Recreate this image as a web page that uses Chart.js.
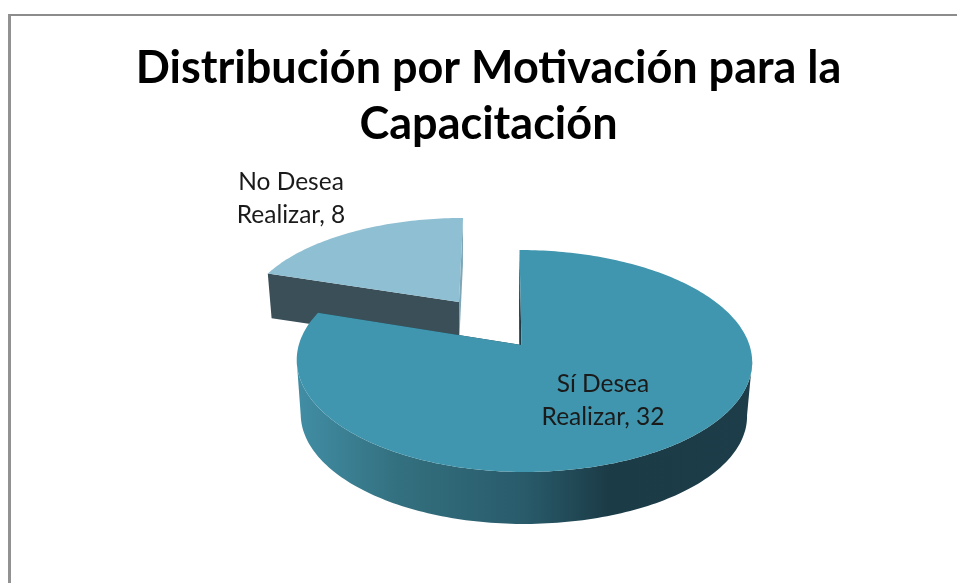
<!DOCTYPE html>
<html lang="es">
<head>
<meta charset="utf-8">
<title>Distribución por Motivación para la Capacitación</title>
<script src="https://cdn.jsdelivr.net/npm/chart.js@4/dist/chart.umd.min.js"></script>
<style>
	html, body { margin: 0; padding: 0; background: #fff; overflow: hidden; }
	#wrap { position: relative; width: 957px; height: 583px; overflow: hidden; }
	#frame { position: absolute; left: 8px; top: 14px; width: 1200px; height: 900px; border-left: 3px solid #929292; border-top: 2px solid #8c8c8c; }
	#chartpie { position: absolute; left: 0; top: 0; }
</style>
</head>
<body>
<div id="wrap">
	<div id="frame"></div>
	<canvas id="chartpie" width="957" height="583"></canvas>
</div>
<script>
var titleLines = ["Distribución por Motivación para la", "Capacitación"];
var categories = ["Sí Desea Realizar", "No Desea Realizar"];
var values = [32, 8];
var topColors = ["#4096ae", "#8fbfd2"];
var wallColors = ["#1c3c47", "#3a4f58"];
var endCutColors = ["#1c3c47", "#7ea6b6"];

// how each slice is laid over the flat Chart.js arc: exploded offset, squash, tilt
var PERSPECTIVE = 0.144;
var sliceViews = [
	{ dx: 33, dy: 0, rxLeft: 0.99, rxRight: 1.013, ry: 0.483, shear: 0.021, depth: 54.5, floor: 0.98, floorDx: -0.5, cutDx: -2 },
	{ dx: -29.5, dy: -43, rxLeft: 0.94, rxRight: 0.94, ry: 0.4275, shear: -0.048, depth: 44, floor: 0.98, floorDx: 0, cutDx: 0 }
];
var labelViews = [
	{ x: 603, y: 384, lines: function (v) { return ["Sí Desea", "Realizar, " + v]; } },
	{ x: 291, y: 182, lines: function (v) { return ["No Desea", "Realizar, " + v]; } }
];

function project(arc, view, angle, onFloor) {
	var u = Math.cos(angle), v = Math.sin(angle);
	var w = 1 - PERSPECTIVE * v;
	var scale = onFloor ? view.floor : 1;
	var rx = u > 0 ? view.rxRight : view.rxLeft;
	var dy = scale * view.ry * arc.outerRadius * v / w;
	return {
		x: arc.x + view.dx + (onFloor ? view.floorDx : 0) + scale * rx * arc.outerRadius * u / w + view.shear * dy,
		y: arc.y + view.dy + (onFloor ? view.depth : 0) + dy
	};
}

function apex(arc, view, onFloor) {
	return {
		x: arc.x + view.dx + (onFloor ? view.cutDx : 0),
		y: arc.y + view.dy + (onFloor ? view.depth : 0)
	};
}

function tracePoly(ctx, pts) {
	ctx.beginPath();
	for (var i = 0; i < pts.length; i++) {
		if (i === 0) ctx.moveTo(pts[i].x, pts[i].y);
		else ctx.lineTo(pts[i].x, pts[i].y);
	}
	ctx.closePath();
}

function rimPoints(arc, view, from, to, onFloor) {
	var pts = [];
	var steps = Math.max(4, Math.ceil((to - from) / 0.02));
	for (var i = 0; i <= steps; i++) {
		pts.push(project(arc, view, from + (to - from) * i / steps, onFloor));
	}
	return pts;
}

function paintSlice(ctx, arc, i) {
	var view = sliceViews[i];
	var s = arc.startAngle, e = arc.endAngle;
	var top = rimPoints(arc, view, s, e, false);
	var floor = rimPoints(arc, view, s, e, true);

	// outer wall, between the two points where the rim turns away from the viewer
	var turn = Math.asin(PERSPECTIVE);
	var from = Math.max(s, turn), to = Math.min(e, Math.PI - turn);
	if (to > from) {
		var left = arc.x + view.dx - arc.outerRadius * view.rxLeft;
		var right = arc.x + view.dx + arc.outerRadius * view.rxRight;
		var g = ctx.createLinearGradient(left, 0, right, 0);
		g.addColorStop(0, "#418da4");
		g.addColorStop(0.22, "#33707f");
		g.addColorStop(0.5, "#295b6b");
		g.addColorStop(0.69, "#1b3b46");
		g.addColorStop(1, "#1c3d49");
		ctx.fillStyle = g;
		var wall = rimPoints(arc, view, from, to, false).concat(rimPoints(arc, view, from, to, true).reverse());
		tracePoly(ctx, wall);
		ctx.fill();
	}

	// the two cut faces
	ctx.fillStyle = wallColors[i];
	tracePoly(ctx, [apex(arc, view, false), top[0], floor[0], apex(arc, view, true)]);
	ctx.fill();
	ctx.fillStyle = endCutColors[i];
	tracePoly(ctx, [apex(arc, view, false), top[top.length - 1], floor[floor.length - 1], apex(arc, view, true)]);
	ctx.fill();

	// top face
	ctx.fillStyle = topColors[i];
	tracePoly(ctx, [apex(arc, view, false)].concat(top));
	ctx.fill();
}

var pie3d = {
	id: "pie3d",
	beforeDatasetDraw: function (chart, args) {
		var arcs = chart.getDatasetMeta(args.index).data;
		var ctx = chart.ctx;
		ctx.save();
		// back slice first so the big one sits in front of it
		for (var i = arcs.length - 1; i >= 0; i--) {
			paintSlice(ctx, arcs[i], i);
		}
		ctx.restore();
		return false;
	},
	afterDatasetsDraw: function (chart) {
		var ctx = chart.ctx;
		ctx.save();
		ctx.fillStyle = "#1a1a1a";
		ctx.font = "24.5px Lato";
		ctx.textAlign = "center";
		ctx.textBaseline = "middle";
		for (var i = 0; i < values.length; i++) {
			var lines = labelViews[i].lines(values[i]);
			for (var j = 0; j < lines.length; j++) {
				ctx.fillText(lines[j], labelViews[i].x, labelViews[i].y + j * 33);
			}
		}
		ctx.restore();
	}
};

function CreateChart() {
	var config = {
		type: "pie",
		data: {
			labels: categories,
			datasets: [{
				data: values,
				backgroundColor: topColors,
				borderWidth: 0,
				radius: 225
			}]
		},
		options: {
			responsive: false,
			animation: false,
			layout: { padding: { left: 20, bottom: 54 } },
			plugins: {
				legend: { display: false },
				tooltip: { enabled: false },
				title: {
					display: true,
					text: titleLines,
					color: "#000",
					font: { family: "Lato", size: 45, weight: "bold", lineHeight: 1.245 },
					padding: { top: 40, bottom: 9 }
				}
			}
		},
		plugins: [pie3d]
	};
	var chartctx = document.getElementById("chartpie").getContext("2d");
	// keeps "ti" as two letters like the original title
	chartctx.letterSpacing = "0.01px";
	window.chartpie = new Chart(chartctx, config);
}

CreateChart();
</script>
</body>
</html>
